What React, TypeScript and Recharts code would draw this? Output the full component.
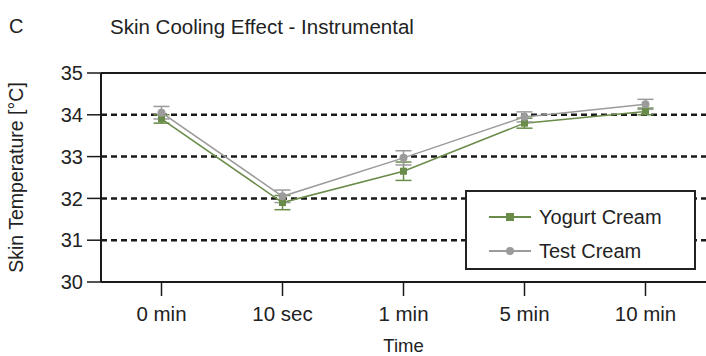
import React from 'react';
import { LineChart, Line, XAxis, YAxis, ErrorBar, ReferenceLine } from 'recharts';

const times = ['0 min', '10 sec', '1 min', '5 min', '10 min'];
const yogurt = [33.9, 31.9, 32.65, 33.8, 34.08];
const yogurtErr = [0.1, 0.17, 0.22, 0.12, 0.08];
const test = [34.05, 32.05, 32.97, 33.95, 34.25];
const testErr = [0.15, 0.15, 0.17, 0.12, 0.12];
const yTicks = [30, 31, 32, 33, 34, 35];
const dashedLines = [31, 32, 33, 34];

const GREEN = '#6a8c4a';
const GRAY = '#9b9b9b';
const FONT = '"Liberation Sans", Arial, sans-serif';

const data = times.map((t, i) => ({
  time: t,
  yogurt: yogurt[i],
  yogurtErr: yogurtErr[i],
  test: test[i],
  testErr: testErr[i],
}));

const SquareDot = (props: any) => {
  const { cx, cy } = props;
  if (cx == null || cy == null) return null;
  return <rect x={cx - 3.5} y={cy - 3.5} width={7} height={7} fill={GREEN} />;
};

function LegendBox() {
  const items = [
    { name: 'Yogurt Cream', color: GREEN, square: true },
    { name: 'Test Cream', color: GRAY, square: false },
  ];
  return (
    <div style={{ position: 'absolute', left: 465, top: 190, width: 231, height: 80, border: '2px solid #222', boxSizing: 'border-box', background: '#fff', paddingTop: 8 }}>
      {items.map((it) => (
        <div key={it.name} style={{ display: 'flex', alignItems: 'center', height: 34 }}>
          <svg width={50} height={14} style={{ marginLeft: 22 }}>
            <line x1={0} x2={42} y1={7} y2={7} stroke={it.color} strokeWidth={2} />
            {it.square ? <rect x={17} y={3} width={8} height={8} fill={it.color} /> : <circle cx={21} cy={7} r={4} fill={it.color} />}
          </svg>
          <span style={{ fontFamily: FONT, fontSize: 20, color: '#222' }}>{it.name}</span>
        </div>
      ))}
    </div>
  );
}

export default function App() {
  return (
    <div style={{ position: 'absolute', left: 0, top: 0, width: 706, height: 356, background: '#fff' }}>
      <div style={{ position: 'absolute', left: 9, top: 15, fontFamily: FONT, fontSize: 20, color: '#222' }}>C</div>
      <div style={{ position: 'absolute', left: 110, top: 15, fontFamily: FONT, fontSize: 20.5, color: '#222' }}>
        Skin Cooling Effect - Instrumental
      </div>
      <LineChart width={706} height={356} data={data} margin={{ top: 73, right: 0, bottom: 0, left: 0 }}>
        {dashedLines.map((v) => (
          <ReferenceLine key={v} y={v} stroke="#1a1a1a" strokeWidth={2.5} strokeDasharray="6 4" />
        ))}
        <ReferenceLine y={35} stroke="#1a1a1a" strokeWidth={2} />
        <XAxis
          dataKey="time"
          padding={{ left: 60.5, right: 60.5 }}
          interval={0}
          tickSize={14}
          height={74}
          axisLine={{ stroke: '#1a1a1a', strokeWidth: 2 }}
          tickLine={{ stroke: '#1a1a1a', strokeWidth: 1.5 }}
          tick={{ fontFamily: FONT, fontSize: 20.5, fill: '#222', dy: 8 }}
          label={{ value: 'Time', position: 'insideBottom', offset: 4, fontFamily: FONT, fontSize: 18.5, fill: '#222' }}
        />
        <YAxis
          width={101}
          domain={[30, 35]}
          ticks={yTicks}
          interval={0}
          tickSize={14}
          axisLine={{ stroke: '#1a1a1a', strokeWidth: 2 }}
          tickLine={{ stroke: '#1a1a1a', strokeWidth: 1.5 }}
          tick={{ fontFamily: FONT, fontSize: 20, fill: '#222', dx: -2 }}
          label={{ value: 'Skin Temperature [°C]', angle: -90, position: 'insideLeft', offset: 16, fontFamily: FONT, fontSize: 19.5, fill: '#222', style: { textAnchor: 'middle' } }}
        />
        <Line dataKey="yogurt" stroke={GREEN} strokeWidth={1.5} dot={<SquareDot />} isAnimationActive={false}>
          <ErrorBar dataKey="yogurtErr" width={8} stroke={GREEN} strokeWidth={1.5} direction="y" />
        </Line>
        <Line dataKey="test" stroke={GRAY} strokeWidth={1.5} dot={{ r: 4, fill: GRAY, stroke: GRAY, strokeWidth: 0 }} isAnimationActive={false}>
          <ErrorBar dataKey="testErr" width={8} stroke={GRAY} strokeWidth={1.5} direction="y" />
        </Line>
      </LineChart>
      <LegendBox />
    </div>
  );
}
